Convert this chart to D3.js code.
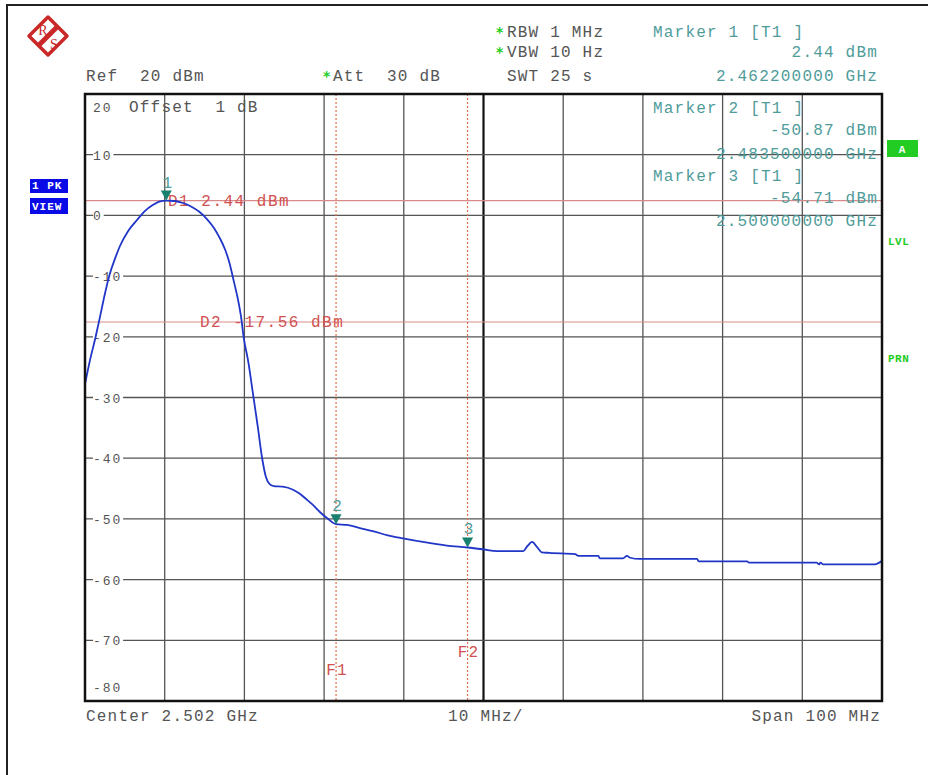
<!DOCTYPE html>
<html>
<head>
<meta charset="utf-8">
<script src="https://cdn.jsdelivr.net/npm/d3@7"></script>
<style>
  html, body { margin: 0; padding: 0; background: #fff; }
  svg { display: block; }
  svg text { white-space: pre; }
</style>
</head>
<body>
<div id="chart"></div>
<script>
// ---------------------------------------------------------------------------
// Data

// trace: frequency in GHz, level in dBm
const traceFreq = [2.4520, 2.4526, 2.4533, 2.4539, 2.4545, 2.4551, 2.4558, 2.4564, 2.4574, 2.4585,
  2.4595, 2.4605, 2.4614, 2.4622, 2.4633, 2.4643, 2.4653, 2.4663, 2.4673, 2.4682,
  2.4689, 2.4696, 2.4701, 2.4707, 2.4712, 2.4716, 2.4719, 2.4725, 2.4731, 2.4737,
  2.4742, 2.4747, 2.4752, 2.4757, 2.4768, 2.4781, 2.4790, 2.4799, 2.4806, 2.4815,
  2.4824, 2.4835, 2.4849, 2.4865, 2.4881, 2.4900, 2.4919, 2.4944, 2.4974, 2.5000,
  2.5019, 2.5037, 2.5070, 2.5075, 2.5081, 2.5087, 2.5093, 2.5103, 2.5135, 2.5139,
  2.5164, 2.5166, 2.5195, 2.5200, 2.5204, 2.5216, 2.5288, 2.5290, 2.5351, 2.5353,
  2.5438, 2.5441, 2.5443, 2.5446, 2.5511, 2.5520];
const traceLevel = [-27.8, -24.0, -20.2, -16.6, -12.9, -9.7, -7.0, -5.0, -2.6, -0.8,
  0.7, 1.7, 2.3, 2.44, 2.37, 2.04, 1.47, 0.64, -0.6, -2.1,
  -3.7, -5.7, -7.7, -11.0, -13.9, -16.9, -20.0, -24.2, -29.6, -35.0,
  -39.8, -43.1, -44.3, -44.6, -44.7, -45.2, -45.9, -46.9, -47.7, -48.9,
  -49.9, -50.87, -51.0, -51.5, -52.0, -52.7, -53.2, -53.8, -54.4, -54.71,
  -55.0, -55.3, -55.3, -54.5, -53.8, -54.6, -55.5, -55.6, -55.8, -56.1,
  -56.1, -56.5, -56.5, -56.1, -56.4, -56.6, -56.6, -57.0, -57.0, -57.2,
  -57.2, -57.5, -57.2, -57.5, -57.5, -56.9];

const markerNames = ['1', '2', '3'];
const markerFreq = [2.4622, 2.4835, 2.5000];
const markerLevel = [2.44, -50.87, -54.71];
const markerFreqText = ['2.462200000 GHz', '2.483500000 GHz', '2.500000000 GHz'];

const displayLineNames = ['D1', 'D2'];
const displayLineLevel = [2.44, -17.56];
const freqLineNames = ['F1', 'F2'];
const freqLineFreq = [2.4835, 2.5000];

const yTicks = [10, 0, -10, -20, -30, -40, -50, -60, -70];
const refLevel = 20;
const bottomLevel = -80;
const centerGHz = 2.502;
const spanMHz = 100;
const divisions = 10;

// ---------------------------------------------------------------------------
// Layout

const W = 928, H = 775;
const plot = {left: 85, right: 882, top: 94, bottom: 701};
const FONT = "'Courier New', 'Liberation Mono', monospace";
const GRAY = '#555';
const TEAL = '#4f9c9a';
const RED = '#d05252';
const GREEN = '#22cc22';

const svg = d3.select('#chart').append('svg')
  .attr('width', W)
  .attr('height', H);

const x = d3.scaleLinear()
  .domain([centerGHz - spanMHz / 2000, centerGHz + spanMHz / 2000])
  .range([plot.left, plot.right]);
const y = d3.scaleLinear()
  .domain([bottomLevel, refLevel])
  .range([plot.bottom, plot.top]);

function text(px, py, s, opts) {
  opts = opts || {};
  return svg.append('text')
    .attr('x', px)
    .attr('y', py)
    .attr('font-family', opts.family || FONT)
    .attr('font-size', opts.size || 16)
    .attr('letter-spacing', opts.spacing === undefined ? 1.2 : opts.spacing)
    .attr('fill', opts.color || GRAY)
    .attr('font-weight', opts.weight || 'normal')
    .attr('text-anchor', opts.anchor || 'start')
    .text(s);
}

function star(px, py) {
  text(px, py, '*', {color: GREEN, size: 14, weight: 'bold', spacing: 0, family: 'DejaVu Sans, sans-serif'});
}

// outer frame (left and top edges visible)
svg.append('path')
  .attr('d', `M7,${H} L7,5 L${W},5`)
  .attr('fill', 'none')
  .attr('stroke', '#222')
  .attr('stroke-width', 2);

// R&S logo
const logo = svg.append('g').attr('transform', 'translate(48,36)');
logo.append('path')
  .attr('d', 'M0,-19 L19,0 L0,19 L-19,0 Z')
  .attr('fill', '#fff')
  .attr('stroke', '#c82828')
  .attr('stroke-width', 3.5)
  .attr('stroke-linejoin', 'round');
logo.append('line')
  .attr('x1', 10).attr('y1', -10).attr('x2', -10).attr('y2', 10)
  .attr('stroke', '#c82828')
  .attr('stroke-width', 5);
logo.append('text').attr('x', -5).attr('y', -1).attr('font-family', 'Liberation Serif, serif')
  .attr('font-size', 14).attr('fill', '#c82828').attr('text-anchor', 'middle').text('R');
logo.append('text').attr('x', 6).attr('y', 13).attr('font-family', 'Liberation Serif, serif')
  .attr('font-size', 14).attr('fill', '#c82828').attr('text-anchor', 'middle').text('S');

// header texts
text(86, 81, 'Ref  20 dBm');
star(323, 81);
text(333, 81, 'Att  30 dB');
star(496, 37);
text(507, 37, 'RBW 1 MHz');
star(496, 57);
text(507, 57, 'VBW 10 Hz');
text(507, 81, 'SWT 25 s');

// grid
const grid = svg.append('g');
d3.range(1, divisions).forEach(i => {
  const f = x.domain()[0] + i * spanMHz / divisions / 1000;
  grid.append('line')
    .attr('x1', x(f)).attr('x2', x(f))
    .attr('y1', plot.top).attr('y2', plot.bottom)
    .attr('stroke', i === divisions / 2 ? '#111' : GRAY)
    .attr('stroke-width', i === divisions / 2 ? 2.2 : 1.3);
});
grid.selectAll('.hgrid')
  .data(yTicks)
  .enter().append('line')
  .attr('class', 'hgrid')
  .attr('x1', plot.left).attr('x2', plot.right)
  .attr('y1', d => y(d)).attr('y2', d => y(d))
  .attr('stroke', GRAY)
  .attr('stroke-width', 1.3);

// y labels with white backing
yTicks.forEach(d => {
  const label = String(d);
  svg.append('rect')
    .attr('x', 93)
    .attr('y', y(d) - 6)
    .attr('width', label.length * 9.7 + 1)
    .attr('height', 12)
    .attr('fill', '#fff');
  text(93, y(d) + 5, label, {size: 13, spacing: 1.9});
});
text(93, plot.bottom - 9, String(bottomLevel), {size: 13, spacing: 1.9});
text(93, plot.top + 18, String(refLevel), {size: 13, spacing: 1.9});
text(129, plot.top + 18, 'Offset  1 dB');

// display lines
displayLineLevel.forEach((lv, i) => {
  svg.append('line')
    .attr('x1', plot.left).attr('x2', plot.right)
    .attr('y1', y(lv)).attr('y2', y(lv))
    .attr('stroke', '#d88a8a')
    .attr('stroke-width', 1.2);
});
text(168, y(displayLineLevel[0]) + 5, `${displayLineNames[0]} ${displayLineLevel[0].toFixed(2)} dBm`, {color: RED, spacing: 1.5});
text(200, y(displayLineLevel[1]) + 5, `${displayLineNames[1]} ${displayLineLevel[1].toFixed(2)} dBm`, {color: RED, spacing: 1.5});

// frequency lines
freqLineFreq.forEach((f, i) => {
  svg.append('line')
    .attr('x1', x(f)).attr('x2', x(f))
    .attr('y1', plot.top).attr('y2', plot.bottom)
    .attr('stroke', '#e0704a')
    .attr('stroke-width', 1.2)
    .attr('stroke-dasharray', '2,2');
});
text(x(freqLineFreq[0]) + 1, 675, freqLineNames[0], {color: RED, anchor: 'middle'});
text(x(freqLineFreq[1]) + 1, 657, freqLineNames[1], {color: RED, anchor: 'middle'});

// marker readouts
text(653, 37, 'Marker 1 [T1 ]', {color: TEAL});
text(878, 57, `${markerLevel[0].toFixed(2)} dBm`, {color: TEAL, anchor: 'end'});
text(878, 81, markerFreqText[0], {color: TEAL, anchor: 'end'});
text(653, 113, 'Marker 2 [T1 ]', {color: TEAL});
text(878, 135, `${markerLevel[1].toFixed(2)} dBm`, {color: TEAL, anchor: 'end'});
text(878, 159, markerFreqText[1], {color: TEAL, anchor: 'end'});
text(653, 181, 'Marker 3 [T1 ]', {color: TEAL});
text(878, 203, `${markerLevel[2].toFixed(2)} dBm`, {color: TEAL, anchor: 'end'});
text(878, 226, markerFreqText[2], {color: TEAL, anchor: 'end'});

// trace
const traceData = traceFreq.map((f, i) => ({f: f, v: traceLevel[i]}));
svg.append('path')
  .datum(traceData)
  .attr('d', d3.line().x(d => x(d.f)).y(d => y(d.v)).curve(d3.curveMonotoneX))
  .attr('fill', 'none')
  .attr('stroke', '#2036c8')
  .attr('stroke-width', 1.8);

// markers
markerFreq.forEach((f, i) => {
  const mx = x(f), my = y(markerLevel[i]);
  svg.append('path')
    .attr('d', `M${mx - 5.5},${my - 10} L${mx + 5.5},${my - 10} L${mx},${my} Z`)
    .attr('fill', '#17806f');
  text(mx + 1, my - 13, markerNames[i], {color: TEAL, anchor: 'middle', size: 16, spacing: 0});
});

// plot border
svg.append('rect')
  .attr('x', plot.left).attr('y', plot.top)
  .attr('width', plot.right - plot.left)
  .attr('height', plot.bottom - plot.top)
  .attr('fill', 'none')
  .attr('stroke', '#111')
  .attr('stroke-width', 2.5);

// footer
text(86, 721, `Center ${centerGHz} GHz`);
text(448, 721, `${spanMHz / divisions} MHz/`);
text(881, 721, `Span ${spanMHz} MHz`, {anchor: 'end'});

// side annotations
function badge(bx, by, bw, bh, fill, s) {
  svg.append('rect').attr('x', bx).attr('y', by).attr('width', bw).attr('height', bh).attr('fill', fill);
  text(bx + 2, by + bh - 4, s, {color: '#fff', size: 11, weight: 'bold', spacing: 1});
}
badge(30, 179, 38, 14, '#0a0ae6', '1 PK');
badge(30, 198, 38, 16, '#0a0ae6', 'VIEW');
svg.append('rect').attr('x', 887).attr('y', 140).attr('width', 31).attr('height', 17).attr('fill', GREEN);
text(902, 153, 'A', {color: '#fff', size: 11, weight: 'bold', anchor: 'middle', spacing: 0});
text(888, 245, 'LVL', {color: GREEN, size: 11, weight: 'bold', spacing: 0.5});
text(888, 362, 'PRN', {color: GREEN, size: 11, weight: 'bold', spacing: 0.5});
</script>
</body>
</html>
